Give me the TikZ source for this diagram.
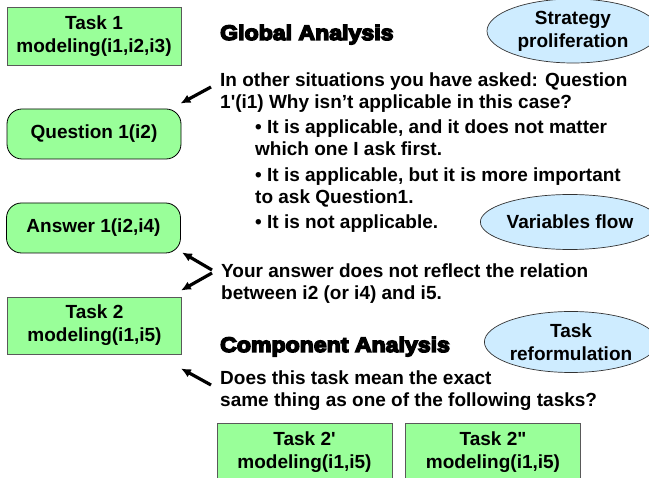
\documentclass[tikz,border=0pt]{standalone}
\usepackage{fontspec}
\setmainfont{Liberation Sans}
\newfontfamily\heavyfont{Liberation Sans Bold}[FakeBold=7,FakeStretch=1.1]
\usetikzlibrary{shapes.geometric,arrows.meta,calc}
\definecolor{boxgreen}{RGB}{153,255,153}
\definecolor{ideablue}{RGB}{206,236,255}
\begin{document}
\begin{tikzpicture}[x=1pt,y=-1pt,
  boxfont/.style={font=\bfseries\fontsize{19}{23}\selectfont},
  taskbox/.style={draw=black!65, line width=0.8pt, fill=boxgreen, minimum width=174pt, minimum height=58pt, inner sep=0pt, align=center, boxfont},
  roundbox/.style={draw=black, line width=0.8pt, fill=boxgreen, rounded corners=15pt, minimum width=174pt, minimum height=50pt, inner sep=0pt, align=center, boxfont},
  idea/.style={ellipse, draw=black!80, line width=0.7pt, fill=ideablue, inner sep=0pt, align=center, boxfont},
  body/.style={anchor=base west, inner sep=0pt, font=\bfseries\fontsize{19}{22}\selectfont},
  heading/.style={anchor=base west, inner sep=0pt, font=\heavyfont\fontsize{21}{24}\selectfont},
  arr/.style={line width=3.2pt, -{Latex[length=10pt,width=9pt]}}
]
\clip (0,0) rectangle (649,478);
\fill[white] (0,0) rectangle (649,478);

% boxes
\node[taskbox] (t1) at (94,36.5) {Task 1\\modeling(i1,i2,i3)};
\node[roundbox] (q1) at (94,134) {Question 1(i2)};
\node[roundbox] (a1) at (93.5,228) {Answer 1(i2,i4)};
\node[taskbox, minimum height=57pt] (t2) at (94.5,325.5) {Task 2\\modeling(i1,i5)};
\node[taskbox, minimum width=175pt] (t2p) at (304.5,452) {Task 2\textquotesingle\\modeling(i1,i5)};
\node[taskbox, minimum width=175pt] (t2pp) at (493,452) {Task 2\textquotedbl\\modeling(i1,i5)};

% ellipses
\node[idea, minimum width=172pt, minimum height=64pt] (sp) at (573,31) {Strategy\\proliferation};
\node[idea, minimum width=164pt, minimum height=55pt] (vf) at (570,222) {Variables flow};
\node[idea, minimum width=168pt, minimum height=61pt] (tr) at (571,342) {Task\\reformulation};

% headings
\node[heading] (ga) at (220,40) {Global Analysis};
\node[heading] (ca) at (220,352) {Component Analysis};

% body text
\node[body] (l1) at (220,86.7) {In other situations you have asked: Question};
\node[body] (l2) at (220,108.3) {1\textquotesingle(i1) Why isn’t applicable in this case?};
\node[body] (l3) at (255,134) {• It is applicable, and it does not matter};
\node[body] (l4) at (255,156) {which one I ask first.};
\node[body] (l5) at (255,181.7) {• It is applicable, but it is more important};
\node[body] (l6) at (255,203.3) {to ask Question1.};
\node[body] (l7) at (255,228.3) {• It is not applicable.};
\node[body] (m1) at (221,278) {Your answer does not reflect the relation};
\node[body] (m2) at (221,300) {between i2 (or i4) and i5.};
\node[body] (n1) at (220,385) {Does this task mean the exact};
\node[body] (n2) at (220,407) {same thing as one of the following tasks?};

% arrows
\coordinate (s1) at (211,87);
\coordinate (s2) at (212,270);
\coordinate (s3) at (212,273);
\coordinate (s4) at (211,385);
\draw[arr] (s1) -- ($(q1.north east)+(-1,-5)$);
\draw[arr] (s2) -- ($(a1.south east)+(1,-1)$);
\draw[arr] (s3) -- ($(t2.north east)+(-1,-6)$);
\draw[arr] (s4) -- ($(t2.south east)+(-1,14)$);
\end{tikzpicture}
\end{document}
